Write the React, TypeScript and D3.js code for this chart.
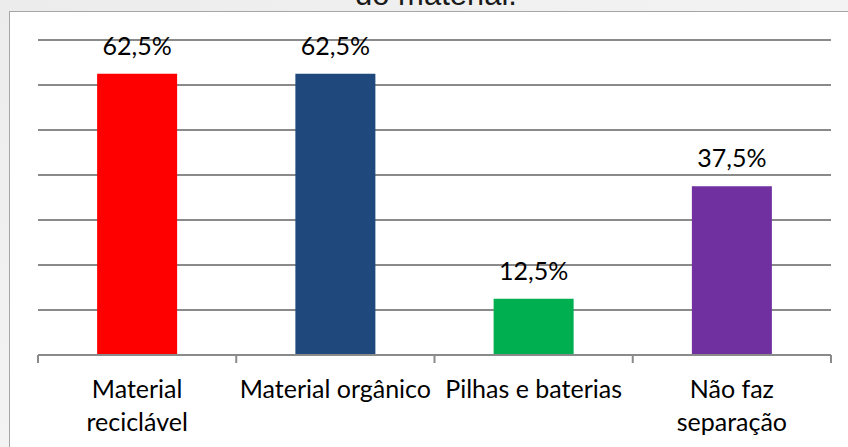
import { useMemo } from 'react';
import * as d3 from 'd3';

// Chart data
const categories = ['Material reciclável', 'Material orgânico', 'Pilhas e baterias', 'Não faz separação'];
const categoryLines = [['Material', 'reciclável'], ['Material orgânico'], ['Pilhas e baterias'], ['Não faz', 'separação']];
const values = [62.5, 62.5, 12.5, 37.5];
const barColors = ['#FF0000', '#1F497D', '#00B050', '#7030A0'];
const yTicks = [0, 10, 20, 30, 40, 50, 60, 70];
const titleText = 'do material.';

const W = 848;
const H = 447;
const plot = { left: 38, right: 831, top: 40, bottom: 355 };
const labelFont = 'Lato, "Open Sans", sans-serif';

const locale = d3.formatLocale({ decimal: ',', thousands: '.', grouping: [3], currency: ['R$', ''] });
const fmt = (v: number) => locale.format('.1f')(v) + '%';

export default function App() {
  const step = (plot.right - plot.left) / categories.length;
  const pad = 1 - 80 / step;

  const x = useMemo(
    () => d3.scaleBand<string>().domain(categories).range([plot.left, plot.right]).paddingInner(pad).paddingOuter(pad / 2),
    [pad]
  );
  const y = useMemo(() => d3.scaleLinear().domain([0, 70]).range([plot.bottom, plot.top]), []);

  const boundaries = d3.range(categories.length + 1).map((i) => plot.left + i * step);

  return (
    <svg
      width={W}
      height={H}
      style={{ position: 'absolute', left: 0, top: 0, display: 'block' }}
    >
      <defs>
        <linearGradient id="bg" x1="0" y1="0" x2="1" y2="1">
          <stop offset="0" stopColor="#ececec" />
          <stop offset="0.5" stopColor="#f3f3f3" />
          <stop offset="1" stopColor="#e9e9e9" />
        </linearGradient>
      </defs>
      <rect x={0} y={0} width={W} height={H} fill="url(#bg)" />

      {/* title, mostly cut off above the frame */}
      <text
        x={436}
        y={5}
        textAnchor="middle"
        fontFamily='"Liberation Sans", Arial, sans-serif'
        fontSize={31}
        fill="#1a1a1a"
      >
        {titleText}
      </text>

      {/* chart frame */}
      <rect x={9.5} y={11.5} width={W + 10} height={H + 10} fill="#ffffff" stroke="#a6a6a6" strokeWidth={1} />

      {/* gridlines */}
      {yTicks.slice(1).map((t) => (
        <line key={t} x1={plot.left} x2={plot.right} y1={y(t)} y2={y(t)} stroke="#8a8a8a" strokeWidth={2} />
      ))}

      {/* bars */}
      {categories.map((c, i) => (
        <rect
          key={c}
          x={x(c)}
          y={y(values[i])}
          width={x.bandwidth()}
          height={y(0) - y(values[i])}
          fill={barColors[i]}
        />
      ))}

      {/* category axis */}
      <line x1={plot.left} x2={plot.right} y1={y(0)} y2={y(0)} stroke="#8a8a8a" strokeWidth={2} />
      {boundaries.map((b, i) => (
        <line key={i} x1={b} x2={b} y1={y(0)} y2={y(0) + 8} stroke="#8a8a8a" strokeWidth={2} />
      ))}

      {/* data labels */}
      {categories.map((c, i) => (
        <text
          key={c}
          x={(x(c) ?? 0) + x.bandwidth() / 2}
          y={y(values[i]) - 19}
          textAnchor="middle"
          fontFamily={labelFont}
          fontSize={25}
          fill="#000"
        >
          {fmt(values[i])}
        </text>
      ))}

      {/* category labels */}
      {categories.map((c, i) => (
        <text
          key={c}
          x={(x(c) ?? 0) + x.bandwidth() / 2}
          y={398}
          textAnchor="middle"
          fontFamily={labelFont}
          fontSize={25}
          fill="#000"
        >
          {categoryLines[i].map((ln, j) => (
            <tspan key={j} x={(x(c) ?? 0) + x.bandwidth() / 2} dy={j === 0 ? 0 : 33}>
              {ln}
            </tspan>
          ))}
        </text>
      ))}
    </svg>
  );
}
